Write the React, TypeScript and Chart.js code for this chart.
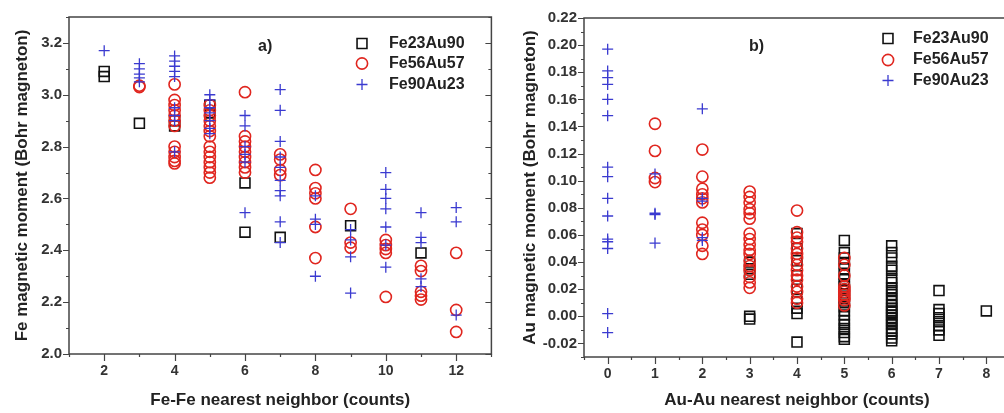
import React, { useEffect, useRef } from 'react';
import { Chart, registerables } from 'chart.js';

Chart.register(...registerables);

const seriesNames = ['Fe23Au90', 'Fe56Au57', 'Fe90Au23'];

// Panel a) : [Fe-Fe nearest neighbor count, Fe magnetic moment]
const aXTicks = [2, 4, 6, 8, 10, 12];
const aFe23Au90: [number, number][] = [
  [2, 3.09], [2, 3.07], [3, 2.89], [4, 2.88], [4, 2.9], [5, 2.96], [5, 2.93],
  [6, 2.66], [6, 2.47], [7, 2.45], [9, 2.495], [11, 2.39],
];
const aFe56Au57: [number, number][] = [
  [3, 3.03], [3, 3.035],
  [4, 3.04], [4, 2.98], [4, 2.96], [4, 2.94], [4, 2.92], [4, 2.9], [4, 2.88], [4, 2.8], [4, 2.78], [4, 2.76], [4, 2.745], [4, 2.735],
  [5, 2.96], [5, 2.94], [5, 2.92], [5, 2.9], [5, 2.88], [5, 2.86], [5, 2.84], [5, 2.8], [5, 2.78], [5, 2.76], [5, 2.74], [5, 2.72], [5, 2.7], [5, 2.68],
  [6, 3.01], [6, 2.84], [6, 2.82], [6, 2.8], [6, 2.78], [6, 2.76], [6, 2.74], [6, 2.72], [6, 2.7],
  [7, 2.77], [7, 2.75], [7, 2.71], [7, 2.69],
  [8, 2.71], [8, 2.64], [8, 2.62], [8, 2.6], [8, 2.49], [8, 2.37],
  [9, 2.56], [9, 2.43], [9, 2.41],
  [10, 2.44], [10, 2.42], [10, 2.405], [10, 2.39], [10, 2.22],
  [11, 2.34], [11, 2.32], [11, 2.24], [11, 2.225], [11, 2.21],
  [12, 2.39], [12, 2.17], [12, 2.085],
];
const aFe90Au23: [number, number][] = [
  [2, 3.17],
  [3, 3.12], [3, 3.1], [3, 3.08], [3, 3.065], [3, 3.05],
  [4, 3.15], [4, 3.13], [4, 3.11], [4, 3.09], [4, 3.07], [4, 2.95], [4, 2.92], [4, 2.9], [4, 2.78],
  [5, 3.0], [5, 2.98], [5, 2.95], [5, 2.93], [5, 2.9], [5, 2.87], [5, 2.85],
  [6, 2.92], [6, 2.88], [6, 2.8], [6, 2.77], [6, 2.74], [6, 2.545],
  [7, 3.02], [7, 2.94], [7, 2.82], [7, 2.76], [7, 2.72], [7, 2.67], [7, 2.63], [7, 2.61], [7, 2.51], [7, 2.43],
  [8, 2.61], [8, 2.52], [8, 2.5], [8, 2.3],
  [9, 2.48], [9, 2.44], [9, 2.375], [9, 2.235],
  [10, 2.7], [10, 2.635], [10, 2.6], [10, 2.56], [10, 2.49], [10, 2.42], [10, 2.335],
  [11, 2.545], [11, 2.45], [11, 2.43], [11, 2.29], [11, 2.26],
  [12, 2.565], [12, 2.51], [12, 2.15],
];

// Panel b) : [Au-Au nearest neighbor count, Au magnetic moment]
const bXTicks = [0, 1, 2, 3, 4, 5, 6, 7, 8];
const bFe23Au90: [number, number][] = [
  [3, 0.04], [3, 0.035], [3, 0.031], [3, 0.0], [3, -0.002],
  [4, 0.061], [4, 0.05], [4, 0.041], [4, 0.03], [4, 0.02], [4, 0.011], [4, 0.006], [4, 0.002], [4, -0.019],
  [5, 0.056], [5, 0.047], [5, 0.043], [5, 0.039], [5, 0.035], [5, 0.031], [5, 0.027], [5, 0.024], [5, 0.022],
  [5, 0.019], [5, 0.016], [5, 0.013], [5, 0.01], [5, 0.007], [5, 0.004], [5, 0.001], [5, -0.003], [5, -0.006],
  [5, -0.009], [5, -0.012], [5, -0.015], [5, -0.017],
  [6, 0.052], [6, 0.047], [6, 0.043], [6, 0.037], [6, 0.034], [6, 0.028], [6, 0.025], [6, 0.021], [6, 0.019],
  [6, 0.016], [6, 0.013], [6, 0.011], [6, 0.008], [6, 0.006], [6, 0.004], [6, 0.003], [6, 0.001], [6, -0.001],
  [6, -0.003], [6, -0.005], [6, -0.006], [6, -0.009], [6, -0.011], [6, -0.013], [6, -0.016], [6, -0.018],
  [7, 0.019], [7, 0.005], [7, 0.002], [7, -0.001], [7, -0.004], [7, -0.007], [7, -0.01], [7, -0.014],
  [8, 0.004],
];
const bFe56Au57: [number, number][] = [
  [1, 0.142], [1, 0.122], [1, 0.102], [1, 0.099],
  [2, 0.123], [2, 0.103], [2, 0.094], [2, 0.09], [2, 0.087], [2, 0.084], [2, 0.069], [2, 0.064], [2, 0.06], [2, 0.052], [2, 0.046],
  [3, 0.092], [3, 0.088], [3, 0.084], [3, 0.079], [3, 0.076], [3, 0.072], [3, 0.061], [3, 0.057], [3, 0.053],
  [3, 0.049], [3, 0.046], [3, 0.041], [3, 0.037], [3, 0.034], [3, 0.029], [3, 0.025], [3, 0.021],
  [4, 0.078], [4, 0.062], [4, 0.058], [4, 0.055], [4, 0.05], [4, 0.046], [4, 0.043], [4, 0.038], [4, 0.034],
  [4, 0.03], [4, 0.027], [4, 0.022], [4, 0.018], [4, 0.013], [4, 0.01],
  [5, 0.043], [5, 0.038], [5, 0.03], [5, 0.022], [5, 0.02], [5, 0.018], [5, 0.016], [5, 0.014], [5, 0.012], [5, 0.008],
];
const bFe90Au23: [number, number][] = [
  [0, 0.197], [0, 0.181], [0, 0.176], [0, 0.171], [0, 0.16], [0, 0.148], [0, 0.11], [0, 0.103], [0, 0.087],
  [0, 0.074], [0, 0.057], [0, 0.055], [0, 0.05], [0, 0.002], [0, -0.012],
  [1, 0.105], [1, 0.076], [1, 0.075], [1, 0.054],
  [2, 0.153], [2, 0.087], [2, 0.085], [2, 0.058], [2, 0.056],
];

const FONT = "'Liberation Sans', Arial, sans-serif";
const TICK_COLOR = '#333';
const TITLE_COLOR = '#222';
const AXIS_COLOR = '#444';

const styles = [
  { pointStyle: 'rect', radius: 7, borderColor: '#111', borderWidth: 1.6 },
  { pointStyle: 'circle', radius: 5.6, borderColor: '#e0261f', borderWidth: 1.6 },
  { pointStyle: 'cross', radius: 5.5, borderColor: '#3a3ad0', borderWidth: 1.3 },
];

function drawSymbol(ctx: CanvasRenderingContext2D, i: number, x: number, y: number) {
  const s = styles[i];
  ctx.save();
  ctx.strokeStyle = s.borderColor;
  ctx.lineWidth = s.borderWidth;
  ctx.beginPath();
  if (i === 0) {
    const h = Math.SQRT1_2 * s.radius;
    ctx.rect(x - h, y - h, 2 * h, 2 * h);
  } else if (i === 1) {
    ctx.arc(x, y, s.radius, 0, Math.PI * 2);
  } else {
    ctx.moveTo(x - s.radius, y);
    ctx.lineTo(x + s.radius, y);
    ctx.moveTo(x, y - s.radius);
    ctx.lineTo(x, y + s.radius);
  }
  ctx.stroke();
  ctx.restore();
}

const framePlugin = {
  id: 'panelFrame',
  afterDatasetsDraw(chart: any, _args: any, opts: any) {
    const { ctx, chartArea } = chart;
    const { left, right, top, bottom } = chartArea;
    const xs = chart.scales.x;
    const ys = chart.scales.y;
    ctx.save();
    ctx.strokeStyle = AXIS_COLOR;
    ctx.lineWidth = 1.5;
    ctx.strokeRect(left, top, right - left, bottom - top);
    ctx.lineWidth = 1.2;
    ctx.beginPath();
    const yk0 = Math.ceil(ys.min / opts.yMinor - 1e-6);
    const yk1 = Math.floor(ys.max / opts.yMinor + 1e-6);
    for (let k = yk0; k <= yk1; k++) {
      const py = Math.round(ys.getPixelForValue(k * opts.yMinor)) + 0.5;
      const major = k % 2 === 0;
      const len = major ? 6 : 3;
      ctx.moveTo(left - len, py);
      ctx.lineTo(left, py);
      ctx.moveTo(right, py);
      ctx.lineTo(right - len, py);
    }
    const xk0 = Math.ceil(xs.min / opts.xMinor - 1e-6);
    const xk1 = Math.floor(xs.max / opts.xMinor + 1e-6);
    for (let k = xk0; k <= xk1; k++) {
      const px = Math.round(xs.getPixelForValue(k * opts.xMinor)) + 0.5;
      const major = k % 2 === 0;
      const len = major ? 7 : 3;
      ctx.moveTo(px, bottom);
      ctx.lineTo(px, bottom + len);
    }
    ctx.stroke();

    ctx.font = `bold 16px ${FONT}`;
    ctx.fillStyle = TITLE_COLOR;
    ctx.textBaseline = 'middle';
    ctx.textAlign = 'left';
    seriesNames.forEach((name, i) => {
      const y = opts.legendY[i];
      drawSymbol(ctx, i, opts.legendSymX, y);
      ctx.fillStyle = TITLE_COLOR;
      ctx.fillText(name, opts.legendTextX, y);
    });
    ctx.fillText(opts.panelLabel, opts.panelLabelX, opts.panelLabelY);
    ctx.restore();
  },
};

function toPoints(arr: [number, number][]) {
  return arr.map(([x, y]) => ({ x, y }));
}

function makeConfig(p: any) {
  const datasets = p.series.map((arr: [number, number][], i: number) => ({
    label: seriesNames[i],
    data: toPoints(arr),
    pointStyle: styles[i].pointStyle,
    pointRadius: styles[i].radius,
    pointBorderColor: styles[i].borderColor,
    pointBackgroundColor: 'rgba(0,0,0,0)',
    pointBorderWidth: styles[i].borderWidth,
    showLine: false,
    order: 3 - i,
  }));
  return {
    type: 'scatter',
    data: { datasets },
    options: {
      animation: false,
      responsive: false,
      devicePixelRatio: 1,
      events: [],
      layout: { padding: p.padding },
      plugins: {
        legend: { display: false },
        tooltip: { enabled: false },
        panelFrame: p.frame,
      },
      scales: {
        x: {
          type: 'linear',
          min: p.xMin,
          max: p.xMax,
          afterBuildTicks: (s: any) => { s.ticks = p.xTicks.map((v: number) => ({ value: v })); },
          afterFit: (s: any) => { s.height = p.xHeight; },
          grid: { display: false, drawTicks: false },
          border: { display: false },
          ticks: {
            autoSkip: false,
            maxRotation: 0,
            padding: 9,
            color: TICK_COLOR,
            font: { family: FONT, size: 14, weight: 'bold' },
            callback: (v: number) => String(v),
          },
          title: {
            display: true,
            text: p.xTitle,
            color: TITLE_COLOR,
            font: { family: FONT, size: 17, weight: 'bold' },
            padding: { top: 0, bottom: 2 },
          },
        },
        y: {
          type: 'linear',
          min: p.yMin,
          max: p.yMax,
          afterFit: (s: any) => { s.width = p.yWidth; },
          grid: { display: false, drawTicks: false },
          border: { display: false },
          ticks: {
            stepSize: p.yStep,
            autoSkip: false,
            includeBounds: false,
            padding: 7,
            color: TICK_COLOR,
            font: { family: FONT, size: 15, weight: 'bold' },
            callback: (v: number) => v.toFixed(p.yDecimals),
          },
          title: {
            display: true,
            text: p.yTitle,
            color: TITLE_COLOR,
            font: { family: FONT, size: 17, weight: 'bold' },
            padding: { top: p.yTitlePad, bottom: 0 },
          },
        },
      },
    },
    plugins: [framePlugin],
  };
}

const panelA = {
  series: [aFe23Au90, aFe56Au57, aFe90Au23],
  xTicks: aXTicks,
  xMin: 1, xMax: 13, yMin: 2.0, yMax: 3.3, yStep: 0.2, yDecimals: 1,
  xTitle: 'Fe-Fe nearest neighbor (counts)',
  yTitle: 'Fe magnetic moment (Bohr magneton)',
  padding: { left: 0, right: 6, top: 17, bottom: 0 },
  xHeight: 59, yWidth: 69, yTitlePad: 12,
  frame: {
    yMinor: 0.1, xMinor: 1,
    legendY: [43.5, 63.5, 84.5], legendSymX: 362, legendTextX: 389,
    panelLabel: 'a)', panelLabelX: 258, panelLabelY: 47,
  },
};

const panelB = {
  series: [bFe23Au90, bFe56Au57, bFe90Au23],
  xTicks: bXTicks,
  xMin: -0.5, xMax: 8.5, yMin: -0.03, yMax: 0.22, yStep: 0.02, yDecimals: 2,
  xTitle: 'Au-Au nearest neighbor (counts)',
  yTitle: 'Au magnetic moment (Bohr magneton)',
  padding: { left: 0, right: 10, top: 18, bottom: 0 },
  xHeight: 56, yWidth: 84, yTitlePad: 20,
  frame: {
    yMinor: 0.01, xMinor: 0.5,
    legendY: [38.5, 60, 80.5], legendSymX: 388, legendTextX: 413,
    panelLabel: 'b)', panelLabelX: 249, panelLabelY: 47,
  },
};

function Panel({ cfg, left, width }: { cfg: any; left: number; width: number }) {
  const ref = useRef<HTMLCanvasElement>(null);
  useEffect(() => {
    if (!ref.current) return;
    const chart = new Chart(ref.current, makeConfig(cfg) as any);
    return () => chart.destroy();
  }, [cfg]);
  return (
    <canvas
      ref={ref}
      width={width}
      height={413}
      style={{ position: 'absolute', left, top: 0, width, height: 413, display: 'block' }}
    />
  );
}

export default function App() {
  return (
    <div
      style={{
        position: 'fixed', left: 0, top: 0, width: 1004, height: 413,
        overflow: 'hidden', background: '#fff',
      }}
    >
      <Panel cfg={panelA} left={0} width={500} />
      <Panel cfg={panelB} left={500} width={520} />
    </div>
  );
}
